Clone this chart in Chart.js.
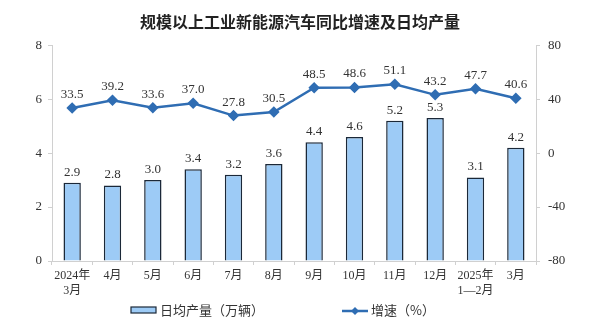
<!DOCTYPE html>
<html>
<head>
<meta charset="utf-8">
<script src="https://cdn.jsdelivr.net/npm/chart.js@4"></script>
<style>
  html, body { margin: 0; padding: 0; background: #fff; }
  #wrap { width: 600px; height: 329px; position: relative; }
</style>
</head>
<body>
<div id="wrap"><canvas id="myChart"></canvas></div>
<script>
const months = [["2024年", "3月"], "4月", "5月", "6月", "7月", "8月", "9月", "10月", "11月", "12月", ["2025年", "1—2月"], "3月"];
const dailyOutput = [2.9, 2.8, 3.0, 3.4, 3.2, 3.6, 4.4, 4.6, 5.2, 5.3, 3.1, 4.2];
const growthRate = [33.5, 39.2, 33.6, 37.0, 27.8, 30.5, 48.5, 48.6, 51.1, 43.2, 47.7, 40.6];
const leftTicks = [0, 2, 4, 6, 8];
const rightTicks = [-80, -40, 0, 40, 80];

const serif = "'Liberation Serif', 'Noto Sans CJK SC', serif";
const cjk = "'Noto Sans CJK SC', sans-serif";
const barBlue = "#9dcbf6";
const lineBlue = "#2f6db3";

// value labels above bars and points
const valueLabels = {
  id: "valueLabels",
  afterDatasetsDraw(chart) {
    const c = chart.ctx;
    c.save();
    c.font = "13px " + serif;
    c.fillStyle = "#333";
    c.textAlign = "center";
    c.textBaseline = "bottom";
    chart.data.datasets.forEach((ds, i) => {
      const meta = chart.getDatasetMeta(i);
      meta.data.forEach((el, j) => {
        const v = ds.data[j].toFixed(1);
        const off = ds.type === "line" ? 7 : 4;
        c.fillText(v, el.x, el.y - off);
      });
    });
    c.restore();
  }
};

// legend drawn at the bottom
const bottomLegend = {
  id: "bottomLegend",
  afterDraw(chart) {
    const c = chart.ctx;
    c.save();
    const y = 310;
    c.fillStyle = barBlue;
    c.fillRect(131, y - 3, 25, 6);
    c.strokeStyle = "#1b2838";
    c.lineWidth = 1.2;
    c.strokeRect(131, y - 3, 25, 6);
    c.font = "13px " + cjk;
    c.fillStyle = "#333";
    c.textBaseline = "middle";
    c.fillText("日均产量（万辆）", 160, y);

    c.strokeStyle = lineBlue;
    c.lineWidth = 2.5;
    c.beginPath();
    c.moveTo(342, y + 1);
    c.lineTo(368, y + 1);
    c.stroke();
    c.fillStyle = lineBlue;
    c.beginPath();
    c.moveTo(355, y - 3);
    c.lineTo(359, y + 1);
    c.lineTo(355, y + 5);
    c.lineTo(351, y + 1);
    c.closePath();
    c.fill();
    c.fillStyle = "#333";
    c.fillText("增速（%）", 371, y);
    c.restore();
  }
};

const ctx = document.getElementById("myChart");

const myChart = new Chart(ctx, {
  data: {
    labels: months,
    datasets: [
      {
        type: "line",
        label: "增速（%）",
        data: growthRate,
        yAxisID: "y1",
        borderColor: lineBlue,
        backgroundColor: lineBlue,
        borderWidth: 2.5,
        pointStyle: "rectRot",
        pointRadius: 4,
        pointHoverRadius: 4,
        tension: 0,
        order: 0
      },
      {
        type: "bar",
        label: "日均产量（万辆）",
        data: dailyOutput,
        yAxisID: "y",
        backgroundColor: barBlue,
        borderColor: "#1b2838",
        borderWidth: 1.5,
        categoryPercentage: 1,
        barPercentage: 0.43,
        order: 1
      }
    ]
  },
  options: {
    responsive: true,
    maintainAspectRatio: false,
    animation: false,
    layout: { padding: { top: 0, left: 0, right: 0, bottom: 0 } },
    plugins: {
      legend: { display: false },
      tooltip: { enabled: false },
      title: {
        display: true,
        text: "规模以上工业新能源汽车同比增速及日均产量",
        color: "#222",
        font: { family: cjk, size: 16, weight: "bold", lineHeight: 1.2 },
        padding: { top: 12, bottom: 14 }
      }
    },
    scales: {
      x: {
        grid: { display: true, drawOnChartArea: false, drawTicks: true, tickLength: 4, color: "#d0d0d0" },
        border: { display: true, color: "#d0d0d0" },
        ticks: { color: "#333", font: { family: serif, size: 12 }, padding: 4, maxRotation: 0, autoSkip: false },
        afterFit(scale) { scale.height = 68; }
      },
      y: {
        position: "left",
        min: 0,
        max: 8,
        grid: { display: true, drawOnChartArea: false, drawTicks: true, tickLength: 4, color: "#d0d0d0" },
        border: { display: true, color: "#d0d0d0" },
        afterBuildTicks(scale) { scale.ticks = leftTicks.map(v => ({ value: v })); },
        ticks: { color: "#333", font: { family: serif, size: 13 }, padding: 6 },
        afterFit(scale) { scale.width = 52; }
      },
      y1: {
        position: "right",
        min: -80,
        max: 80,
        grid: { display: true, drawOnChartArea: false, drawTicks: true, tickLength: 4, color: "#d0d0d0" },
        border: { display: true, color: "#d0d0d0" },
        afterBuildTicks(scale) { scale.ticks = rightTicks.map(v => ({ value: v })); },
        ticks: { color: "#333", font: { family: serif, size: 13 }, padding: 8 },
        afterFit(scale) { scale.width = 64; }
      }
    }
  },
  plugins: [valueLabels, bottomLegend]
});
</script>
</body>
</html>
